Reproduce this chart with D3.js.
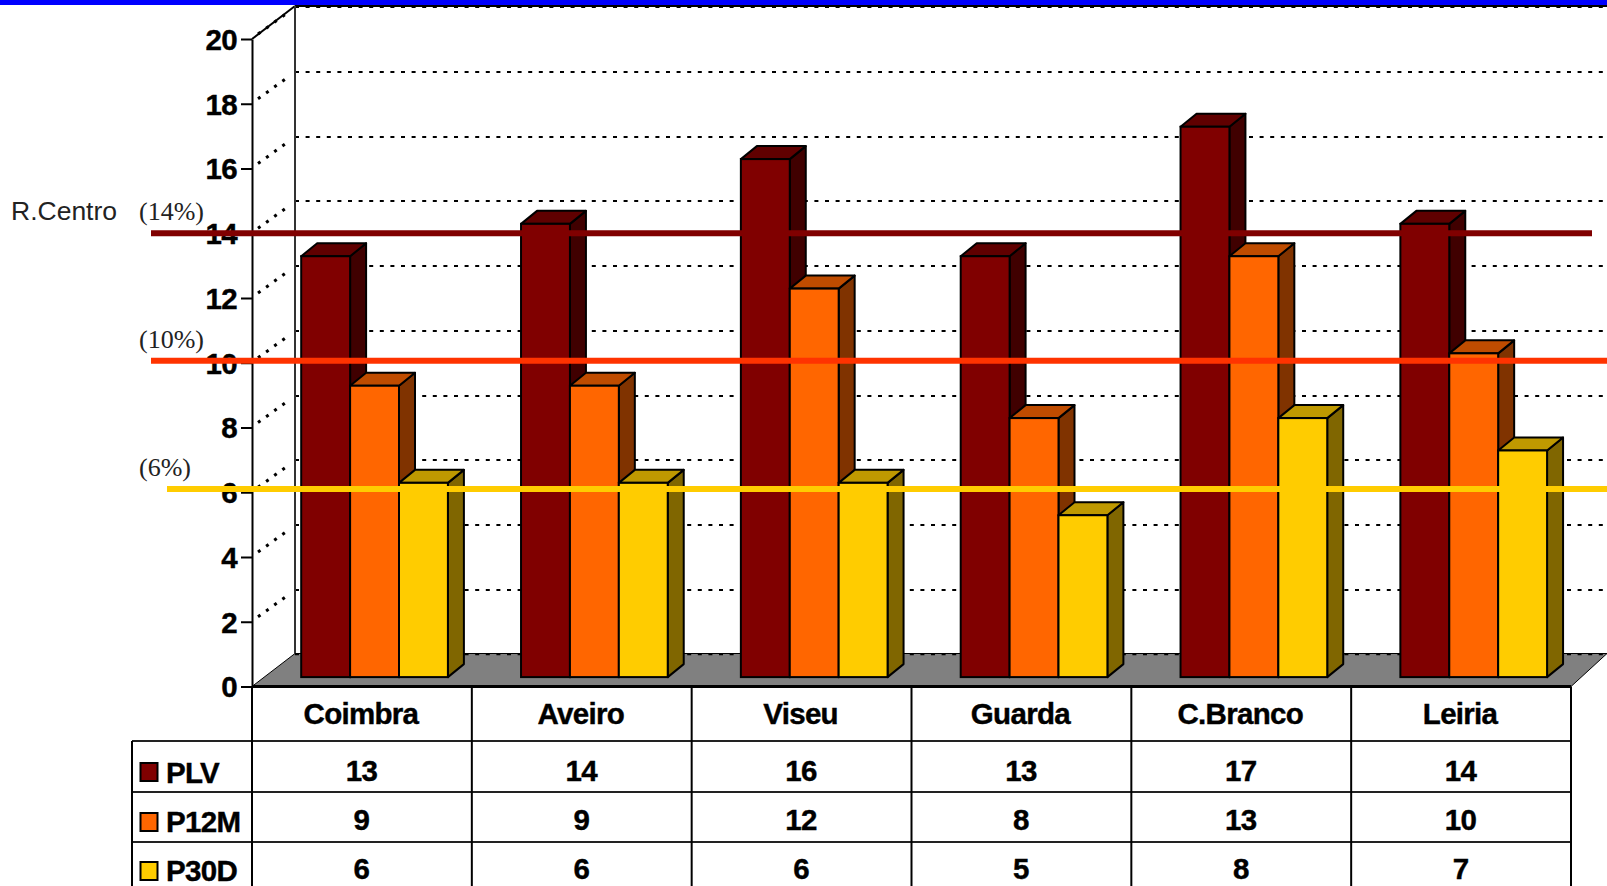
<!DOCTYPE html>
<html><head><meta charset="utf-8">
<script src="https://cdn.jsdelivr.net/npm/d3@7/dist/d3.min.js"></script>
<style>html,body{margin:0;padding:0;background:#fff;overflow:hidden}svg{display:block}
text{font-family:"Liberation Sans",Arial,sans-serif}</style></head>
<body><svg id="c" width="1607" height="886"></svg>
<script>
const categories = ["Coimbra","Aveiro","Viseu","Guarda","C.Branco","Leiria"];
const seriesNames = ["PLV","P12M","P30D"];
const plv  = [13,14,16,13,17,14];
const p12m = [9,9,12,8,13,10];
const p30d = [6,6,6,5,8,7];
const yTicks = [0,2,4,6,8,10,12,14,16,18,20];
const refValues = [14,10.06,6.1];
const refLabels = ["(14%)","(10%)","(6%)"];
const refColors = ["#800000","#ff3300","#ffcc00"];
const frontColors = ["#800000","#ff6600","#ffcc00"];
const topColors = ["#600000","#bf4c00","#bf9900"];
const sideColors = ["#400000","#803300","#806600"];
const seriesValues = [plv,p12m,p30d];

const W=1607,H=886;
const svg=d3.select("#c");
const x0=252,x1=1571,yB=686.5,yT=39;
const backDx=43,backDy=-33;
const x=d3.scaleBand().domain(categories).range([x0,x1]);
const y=d3.scaleLinear().domain([0,20]).range([yB,yT]);
const barInset=49.2,barW=48.9,barDx=16,barDy=-13,barLift=-9.4;
const s=d3.scaleBand().domain(d3.range(3)).range([0,barW*3]);

// wall grid
const grid=svg.append("g");
yTicks.filter(v=>v>0).forEach(v=>{
  const gy=Math.round(y(v)+backDy+1);
  grid.append("line").attr("x1",x0+backDx).attr("x2",W).attr("y1",gy).attr("y2",gy)
    .attr("stroke","#000").attr("stroke-width",2).attr("stroke-dasharray","4 6.6");
  grid.append("line").attr("x1",x0+6).attr("y1",y(v)-5).attr("x2",x0+backDx-5).attr("y2",y(v)+backDy+5)
    .attr("stroke","#000").attr("stroke-width",3).attr("stroke-dasharray","3 7");
});
svg.append("line").attr("x1",x0).attr("y1",y(20)).attr("x2",x0+backDx).attr("y2",y(20)+backDy).attr("stroke","#000").attr("stroke-width",2);
svg.append("line").attr("x1",x0+backDx).attr("x2",W).attr("y1",6).attr("y2",6).attr("stroke","#000").attr("stroke-width",2);
svg.append("line").attr("x1",x0+backDx).attr("x2",x0+backDx).attr("y1",y(20)+backDy).attr("y2",y(0)+backDy).attr("stroke","#333").attr("stroke-width",2);

// floor
svg.append("path").attr("d",d3.line()([[x0,yB],[x0+backDx,yB+backDy],[W,yB+backDy],[x1,yB]])+"Z")
  .attr("fill","#808080").attr("stroke","#000").attr("stroke-width",1);
svg.append("line").attr("x1",x0+backDx).attr("x2",W).attr("y1",yB+backDy+1).attr("y2",yB+backDy+1)
  .attr("stroke","#000").attr("stroke-width",1.5).attr("stroke-dasharray","4 6.6");

// bars
const line=d3.line();
categories.forEach((c,ci)=>{
  const g=svg.append("g");
  seriesValues.forEach((vals,si)=>{
    const l=x(c)+barInset+s(si),r=l+s.bandwidth(),t=y(vals[ci])+barLift,b=y(0)+barLift;
    g.append("path").attr("d",line([[r,t],[r+barDx,t+barDy],[r+barDx,b+barDy],[r,b]])+"Z")
      .attr("fill",sideColors[si]).attr("stroke","#000").attr("stroke-width",2).attr("stroke-linejoin","round");
    g.append("path").attr("d",line([[l,t],[l+barDx,t+barDy],[r+barDx,t+barDy],[r,t]])+"Z")
      .attr("fill",topColors[si]).attr("stroke","#000").attr("stroke-width",2).attr("stroke-linejoin","round");
    g.append("rect").attr("x",l).attr("y",t).attr("width",r-l).attr("height",b-t)
      .attr("fill",frontColors[si]).attr("stroke","#000").attr("stroke-width",2);
  });
});

// y axis
const ax=svg.append("g").attr("transform",`translate(${x0},0)`)
  .call(d3.axisLeft(y).tickValues(yTicks).tickSize(11).tickPadding(4).tickSizeOuter(0));
ax.selectAll("path,line").attr("stroke","#000").attr("stroke-width",2);
const heavy=(sel)=>sel.attr("font-size",29.5).attr("font-weight","bold").attr("fill","#000")
  .attr("stroke","#000").attr("stroke-width",0.4).style("letter-spacing","-0.7px");
heavy(ax.selectAll("text")).attr("font-family",'"Liberation Sans",Arial,sans-serif').attr("dy","0.35em");

// data table
const rowY=[yB,741,792,842,H];
const xs=categories.map(c=>x(c)).concat([x1]);
const tbl=svg.append("g").attr("stroke","#000");
tbl.append("line").attr("x1",x0).attr("x2",x1).attr("y1",yB).attr("y2",yB).attr("stroke-width",3);
rowY.slice(1,4).forEach(v=>tbl.append("line").attr("x1",132).attr("x2",x1).attr("y1",v).attr("y2",v).attr("stroke-width",2).attr("stroke","#222"));
xs.forEach(v=>tbl.append("line").attr("x1",v).attr("x2",v).attr("y1",yB).attr("y2",H).attr("stroke-width",2));
tbl.append("line").attr("x1",132).attr("x2",132).attr("y1",741).attr("y2",H).attr("stroke-width",2);

categories.forEach(c=>{
  heavy(svg.append("text")).attr("x",x(c)+x.bandwidth()/2-1).attr("y",724).attr("text-anchor","middle").text(c);
});
const rowBase=[781,830,879];
seriesNames.forEach((n,si)=>{
  svg.append("rect").attr("x",140.5).attr("y",[763,813,862][si]).attr("width",17).attr("height",18)
    .attr("fill",frontColors[si]).attr("stroke","#000").attr("stroke-width",2);
  heavy(svg.append("text")).attr("x",166).attr("y",rowBase[si]+2).text(n);
  categories.forEach((c,ci)=>{
    heavy(svg.append("text")).attr("x",x(c)+x.bandwidth()/2-0.5).attr("y",rowBase[si]).attr("text-anchor","middle").text(seriesValues[si][ci]);
  });
});

// reference lines
const refStart=[151,151,167],refEnd=[1592,W,W];
refValues.forEach((v,i)=>{
  svg.append("line").attr("x1",refStart[i]).attr("x2",refEnd[i]).attr("y1",y(v)).attr("y2",y(v))
    .attr("stroke",refColors[i]).attr("stroke-width",6);
  svg.append("text").attr("x",139).attr("y",y(v)-13).attr("font-size",26)
    .style("font-family",'"Liberation Serif","Times New Roman",serif').attr("fill","#222").text(refLabels[i]);
});
svg.append("text").attr("x",11).attr("y",220).attr("font-size",26.5).attr("fill","#222").text("R.Centro");

// top band
svg.append("rect").attr("x",0).attr("y",0).attr("width",W).attr("height",5).attr("fill","#0000ff");
</script></body></html>
